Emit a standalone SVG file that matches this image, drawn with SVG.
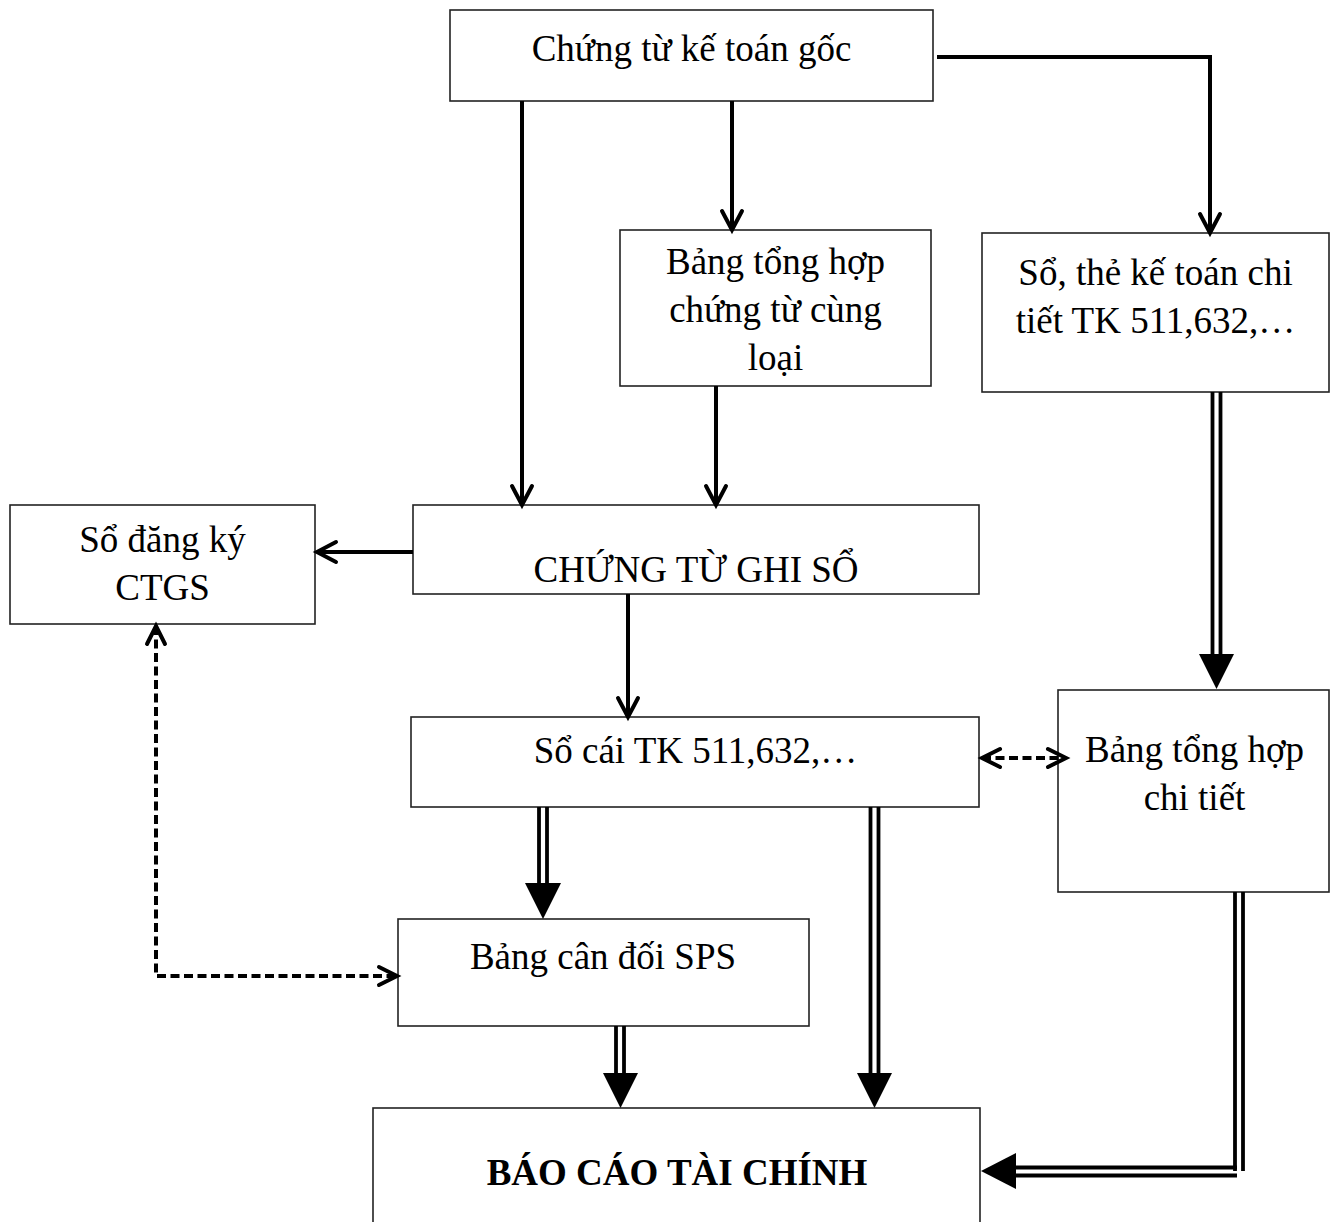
<svg xmlns="http://www.w3.org/2000/svg" width="1339" height="1222" viewBox="0 0 1339 1222">
<style>
.box{fill:#fff;stroke:#222;stroke-width:1.6}
.t{font-family:"Liberation Serif","Times New Roman",serif;font-size:37px;fill:#000;text-anchor:middle}
.b{font-weight:bold}
.c{fill:none;stroke:#000;stroke-width:4}
.d{fill:none;stroke:#000;stroke-width:4;stroke-dasharray:9 4.5}
.dl{fill:none;stroke:#000;stroke-width:3.8}
.tri{fill:#000;stroke:none}
</style>
<defs>
<marker id="chev" markerUnits="userSpaceOnUse" markerWidth="24" markerHeight="24" viewBox="0 0 24 24" refX="21" refY="12" orient="auto" overflow="visible">
<path d="M2,2 L21,12 L2,22" fill="none" stroke="#000" stroke-width="4" stroke-linecap="round" stroke-linejoin="miter"/>
</marker>
<marker id="chevS" markerUnits="userSpaceOnUse" markerWidth="24" markerHeight="24" viewBox="0 0 24 24" refX="21" refY="12" orient="auto-start-reverse" overflow="visible">
<path d="M3,3 L21,12 L3,21" fill="none" stroke="#000" stroke-width="4" stroke-linecap="round"/>
</marker>
</defs>

<g id="n-goc"><rect class="box" x="450" y="10" width="483" height="91"/><text class="t" x="691.5" y="61">Chứng từ kế toán gốc</text></g>
<g id="n-bangthcungloai"><rect class="box" x="620" y="230" width="311" height="156"/><text class="t" x="775.5" y="274">Bảng tổng hợp</text><text class="t" x="775.5" y="322">chứng từ cùng</text><text class="t" x="775.5" y="370">loại</text></g>
<g id="n-sothe"><rect class="box" x="982" y="233" width="347" height="159"/><text class="t" x="1155.5" y="285">Sổ, thẻ kế toán chi</text><text class="t" x="1155.5" y="333">tiết TK 511,632,…</text></g>
<g id="n-sodangky"><rect class="box" x="10" y="505" width="305" height="119"/><text class="t" x="162.5" y="552">Sổ đăng ký</text><text class="t" x="162.5" y="600">CTGS</text></g>
<g id="n-ctgs"><rect class="box" x="413" y="505" width="566" height="89"/><text class="t" x="696" y="582">CHỨNG TỪ GHI SỔ</text></g>
<g id="n-socai"><rect class="box" x="411" y="717" width="568" height="90"/><text class="t" x="695.5" y="763">Sổ cái TK 511,632,…</text></g>
<g id="n-bangthct"><rect class="box" x="1058" y="690" width="271" height="202"/><text class="t" x="1194.5" y="762">Bảng tổng hợp</text><text class="t" x="1194.5" y="810">chi tiết</text></g>
<g id="n-candoi"><rect class="box" x="398" y="919" width="411" height="107"/><text class="t" x="603" y="969">Bảng cân đối SPS</text></g>
<g id="n-bctc"><rect class="box" x="373" y="1108" width="607" height="140"/><text class="t b" x="677" y="1185">BÁO CÁO TÀI CHÍNH</text></g>

<g id="connectors">
<path class="c" d="M522,101 V505" marker-end="url(#chev)"/>
<path class="c" d="M732,101 V230" marker-end="url(#chev)"/>
<path class="c" d="M937,57 H1210 V233" marker-end="url(#chev)"/>
<path class="c" d="M716,386 V505" marker-end="url(#chev)"/>
<path class="c" d="M413,552 H317" marker-end="url(#chev)"/>
<path class="c" d="M628,594 V717" marker-end="url(#chev)"/>

<path class="d" d="M982,758 H1066" marker-start="url(#chevS)" marker-end="url(#chevS)"/>
<path class="d" d="M156,626 V976 H397" marker-start="url(#chevS)" marker-end="url(#chevS)"/>

<g id="dbl-sothe-ct"><line class="dl" x1="1212.5" y1="392" x2="1212.5" y2="656"/><line class="dl" x1="1220.5" y1="392" x2="1220.5" y2="656"/><polygon class="tri" points="1199,654 1234,654 1216.5,689"/></g>
<g id="dbl-socai-candoi"><line class="dl" x1="539" y1="807" x2="539" y2="885"/><line class="dl" x1="547" y1="807" x2="547" y2="885"/><polygon class="tri" points="525,883 561,883 543,919"/></g>
<g id="dbl-socai-bctc"><line class="dl" x1="870.5" y1="807" x2="870.5" y2="1075"/><line class="dl" x1="878.5" y1="807" x2="878.5" y2="1075"/><polygon class="tri" points="857,1073 892,1073 874.5,1108"/></g>
<g id="dbl-candoi-bctc"><line class="dl" x1="616" y1="1026" x2="616" y2="1075"/><line class="dl" x1="624" y1="1026" x2="624" y2="1075"/><polygon class="tri" points="603,1073 638,1073 620.5,1108"/></g>
<g id="dbl-ct-bctc"><line class="dl" x1="1235" y1="892" x2="1235" y2="1171"/><line class="dl" x1="1243" y1="892" x2="1243" y2="1171"/><line class="dl" x1="1014" y1="1167.5" x2="1237" y2="1167.5"/><line class="dl" x1="1014" y1="1175.5" x2="1237" y2="1175.5"/><polygon class="tri" points="1016,1153 1016,1189 981,1171"/></g>
</g>
</svg>
